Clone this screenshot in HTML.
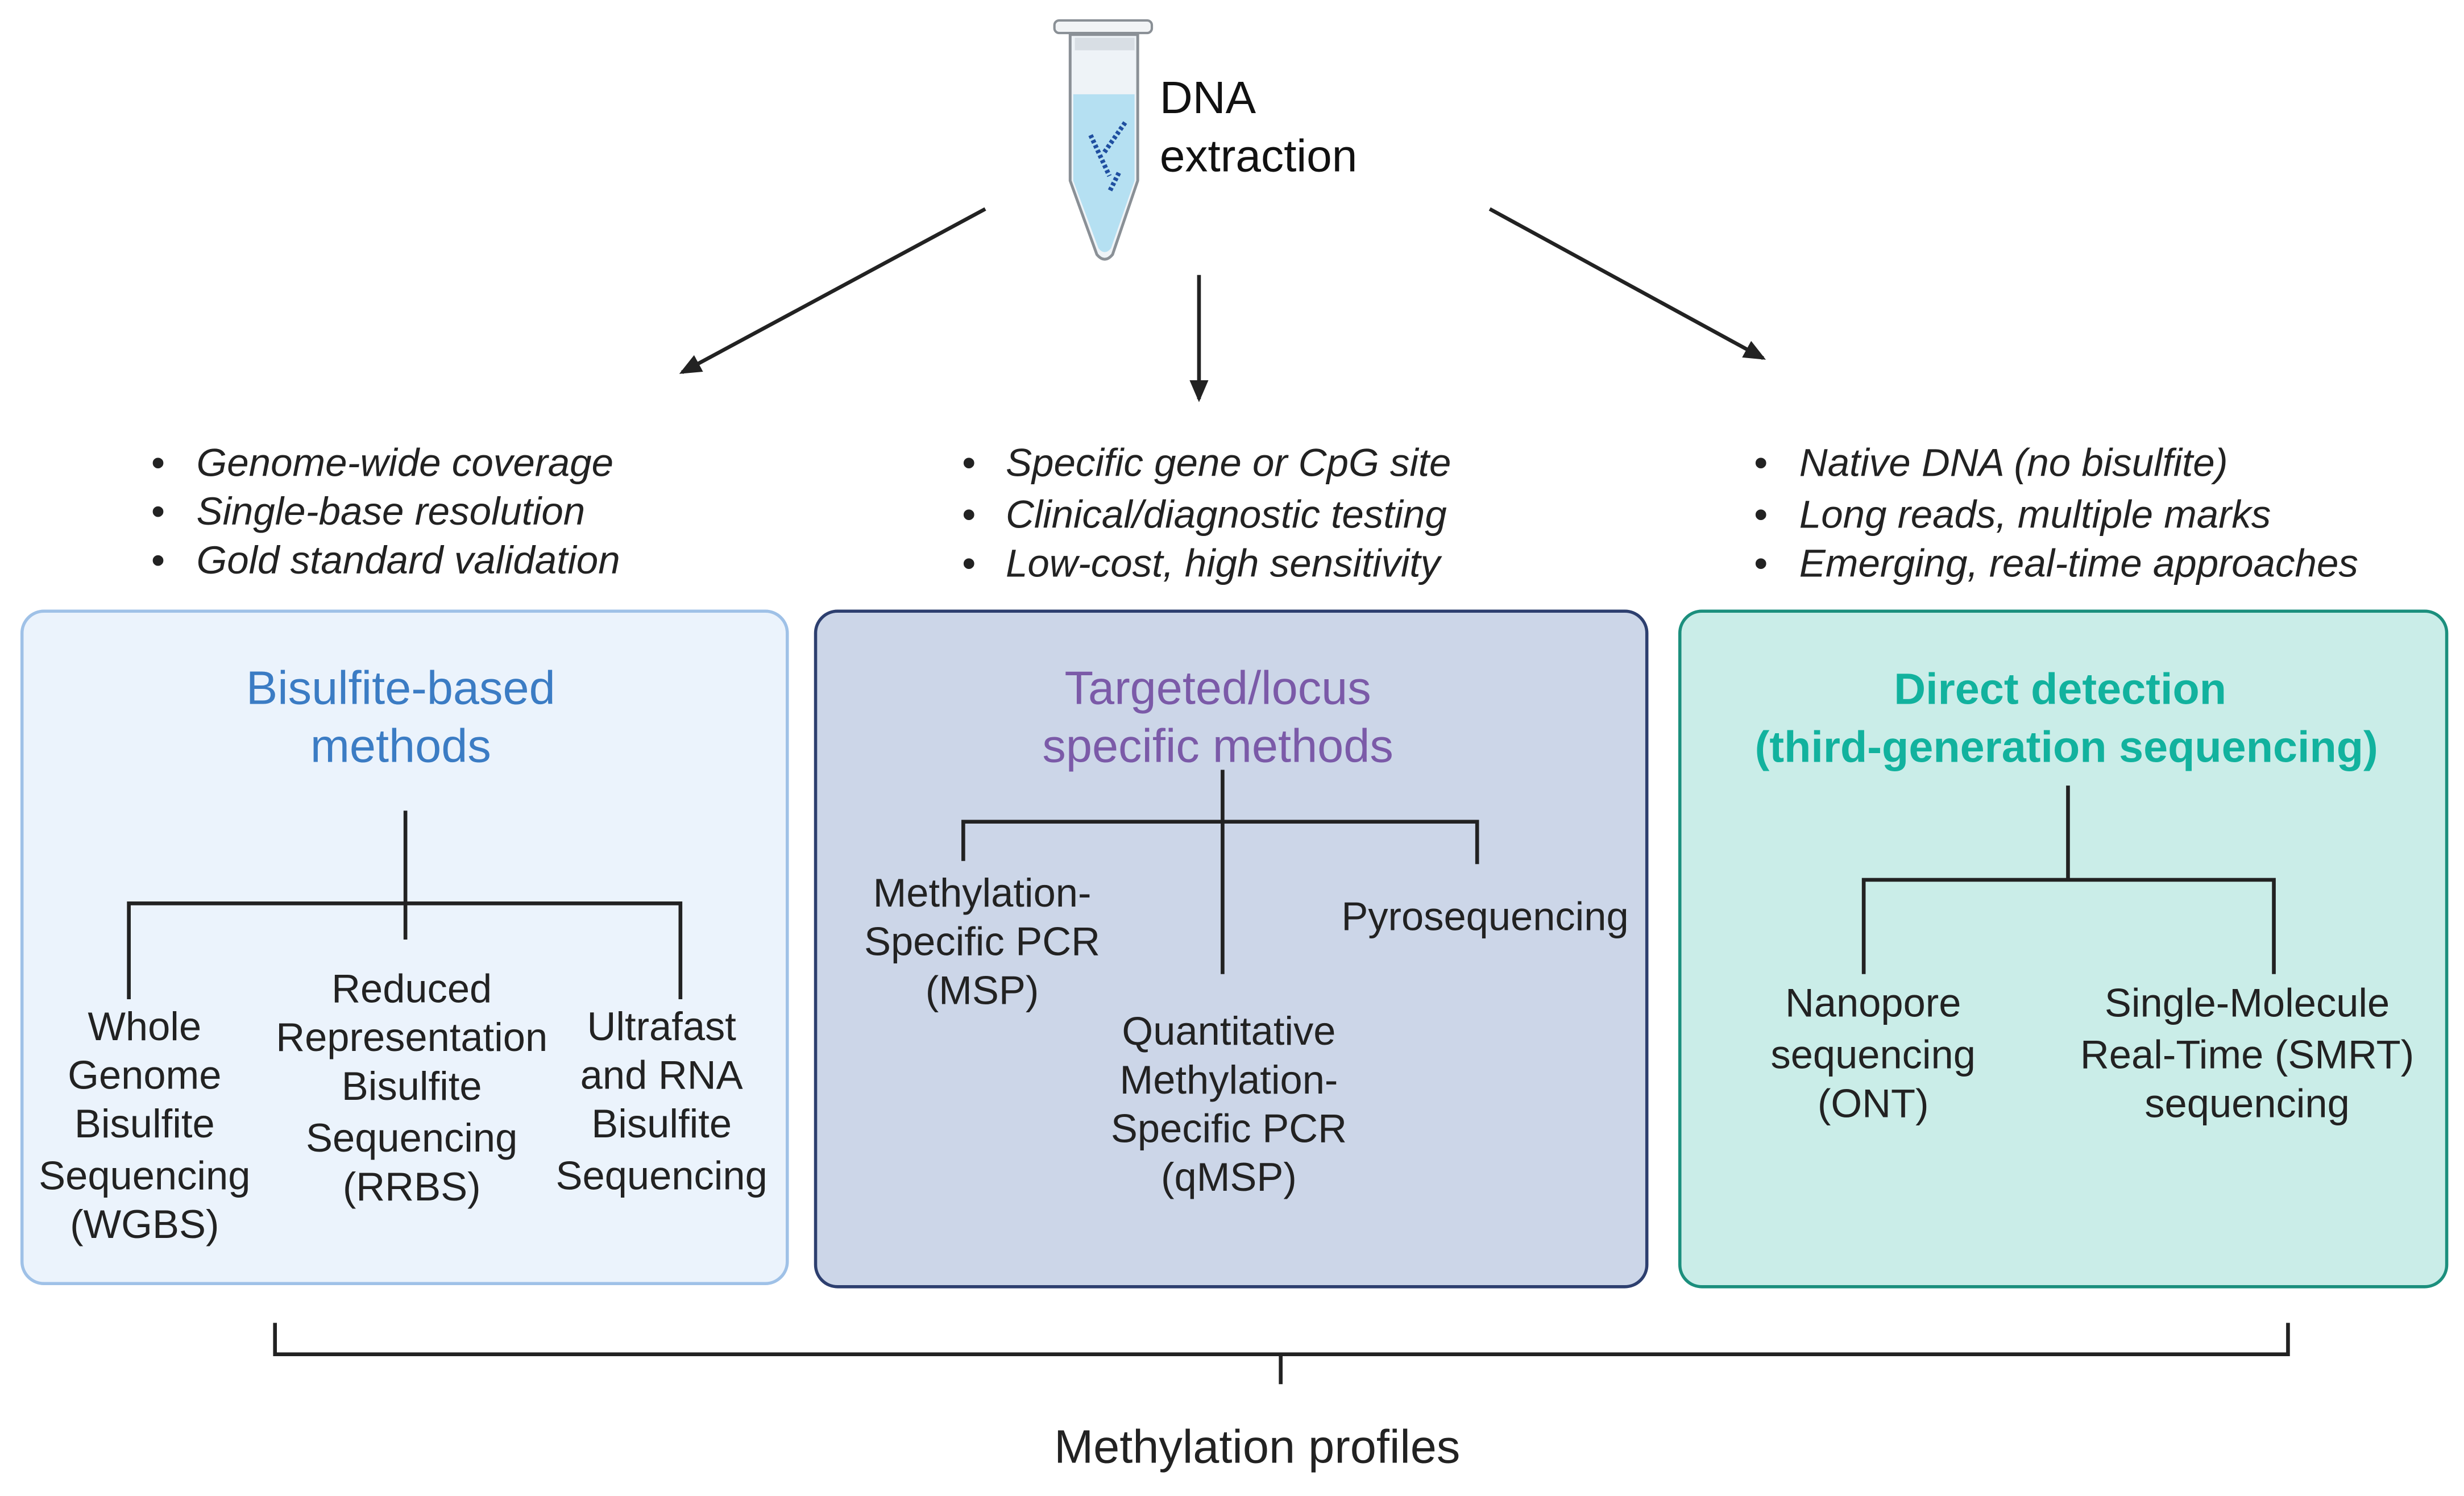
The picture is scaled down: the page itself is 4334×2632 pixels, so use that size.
<!DOCTYPE html>
<html><head><meta charset="utf-8"><style>
html,body{margin:0;padding:0;background:#fff;}
svg{display:block;}
text{font-family:"Liberation Sans",sans-serif;}
</style></head><body>
<svg width="4334" height="2632" viewBox="0 0 1568 952.2" preserveAspectRatio="none" xmlns="http://www.w3.org/2000/svg">
<defs>
<marker id="ah" markerWidth="14" markerHeight="12" refX="12" refY="6" orient="auto" markerUnits="userSpaceOnUse">
<path d="M0,0 L14,6 L0,12 z" fill="#222"/>
</marker>
</defs>
<!-- tube -->
<g>
<rect x="671" y="13" width="62" height="8" rx="3" fill="#f2f4f6" stroke="#8a9096" stroke-width="1.5"/>
<path d="M681,22 L724,22 L724,115 L708,162 Q703,168 698,162 L681,115 Z" fill="#eef3f7" stroke="#8a9096" stroke-width="1.8"/>
<path d="M683,60 L722,60 L722,115 L707,158 Q703,163 699,158 L683,115 Z" fill="#b5e0f2"/>
<path d="M684,24 L722,24 L722,32 L684,32 Z" fill="#d8dee4"/>
<path d="M694,86 L706,112 M716,78 L702,98 M712,110 L706,122" stroke="#1f4fa0" stroke-width="3" stroke-dasharray="2 1.5"/>
</g>
<text x="738" y="72" font-size="29" fill="#111">DNA</text>
<text x="738" y="109" font-size="29" fill="#111">extraction</text>
<!-- arrows -->
<g stroke="#222" stroke-width="2.4" fill="none">
<line x1="627" y1="133" x2="434" y2="237" marker-end="url(#ah)"/>
<line x1="763" y1="175" x2="763" y2="254" marker-end="url(#ah)"/>
<line x1="948" y1="133" x2="1122" y2="228" marker-end="url(#ah)"/>
</g>
<!-- bullets -->
<g font-size="25" font-style="italic" fill="#222">
<text x="96" y="303">•</text><text x="125" y="303">Genome-wide coverage</text>
<text x="96" y="334">•</text><text x="125" y="334">Single-base resolution</text>
<text x="96" y="365">•</text><text x="125" y="365">Gold standard validation</text>
<text x="612" y="303">•</text><text x="640" y="303">Specific gene or CpG site</text>
<text x="612" y="336">•</text><text x="640" y="336">Clinical/diagnostic testing</text>
<text x="612" y="367">•</text><text x="640" y="367">Low-cost, high sensitivity</text>
<text x="1116" y="303">•</text><text x="1145" y="303">Native DNA (no bisulfite)</text>
<text x="1116" y="336">•</text><text x="1145" y="336">Long reads, multiple marks</text>
<text x="1116" y="367">•</text><text x="1145" y="367">Emerging, real-time approaches</text>
</g>
<!-- boxes -->
<rect x="14" y="389" width="487" height="428" rx="14" fill="#ebf3fc" stroke="#9fc1e7" stroke-width="2"/>
<rect x="519" y="389" width="529" height="430" rx="14" fill="#ccd6e8" stroke="#2d3f6f" stroke-width="2"/>
<rect x="1069" y="389" width="488" height="430" rx="14" fill="#caede8" stroke="#1b8f7d" stroke-width="2"/>
<!-- titles -->
<g font-size="30" text-anchor="middle">
<text x="255" y="448" fill="#3b7cc4">Bisulfite-based</text>
<text x="255" y="485" fill="#3b7cc4">methods</text>
<text x="775" y="448" fill="#7b5aa8">Targeted/locus</text>
<text x="775" y="485" fill="#7b5aa8">specific methods</text>
<text x="1311" y="448" fill="#12b29e" font-weight="bold" font-size="28">Direct detection</text>
<text x="1315" y="485" fill="#12b29e" font-weight="bold" font-size="28">(third-generation sequencing)</text>
</g>
<!-- trees -->
<g stroke="#222" stroke-width="2.4" fill="none">
<path d="M258,516 V598 M82,636 V575 H433 V636"/>
<path d="M778,490 V620 M613,548 V523 H940 V550"/>
<path d="M1316,500 V560 M1186,620 V560 H1447 V620"/>
<path d="M175,842 V862 H1456 V842 M815,862 V881"/>
</g>
<!-- leaf labels -->
<g font-size="25.5" fill="#222" text-anchor="middle">
<text x="92" y="662">Whole</text><text x="92" y="693">Genome</text><text x="92" y="724">Bisulfite</text><text x="92" y="757">Sequencing</text><text x="92" y="788">(WGBS)</text>
<text x="262" y="638">Reduced</text><text x="262" y="669">Representation</text><text x="262" y="700">Bisulfite</text><text x="262" y="733">Sequencing</text><text x="262" y="764">(RRBS)</text>
<text x="421" y="662">Ultrafast</text><text x="421" y="693">and RNA</text><text x="421" y="724">Bisulfite</text><text x="421" y="757">Sequencing</text>
<text x="625" y="577">Methylation-</text><text x="625" y="608">Specific PCR</text><text x="625" y="639">(MSP)</text>
<text x="945" y="592">Pyrosequencing</text>
<text x="782" y="665">Quantitative</text><text x="782" y="696">Methylation-</text><text x="782" y="727">Specific PCR</text><text x="782" y="758">(qMSP)</text>
<text x="1192" y="647">Nanopore</text><text x="1192" y="680">sequencing</text><text x="1192" y="711">(ONT)</text>
<text x="1430" y="647">Single-Molecule</text><text x="1430" y="680">Real-Time (SMRT)</text><text x="1430" y="711">sequencing</text>
<text x="800" y="931" font-size="30">Methylation profiles</text>
</g>
</svg>
</body></html>
